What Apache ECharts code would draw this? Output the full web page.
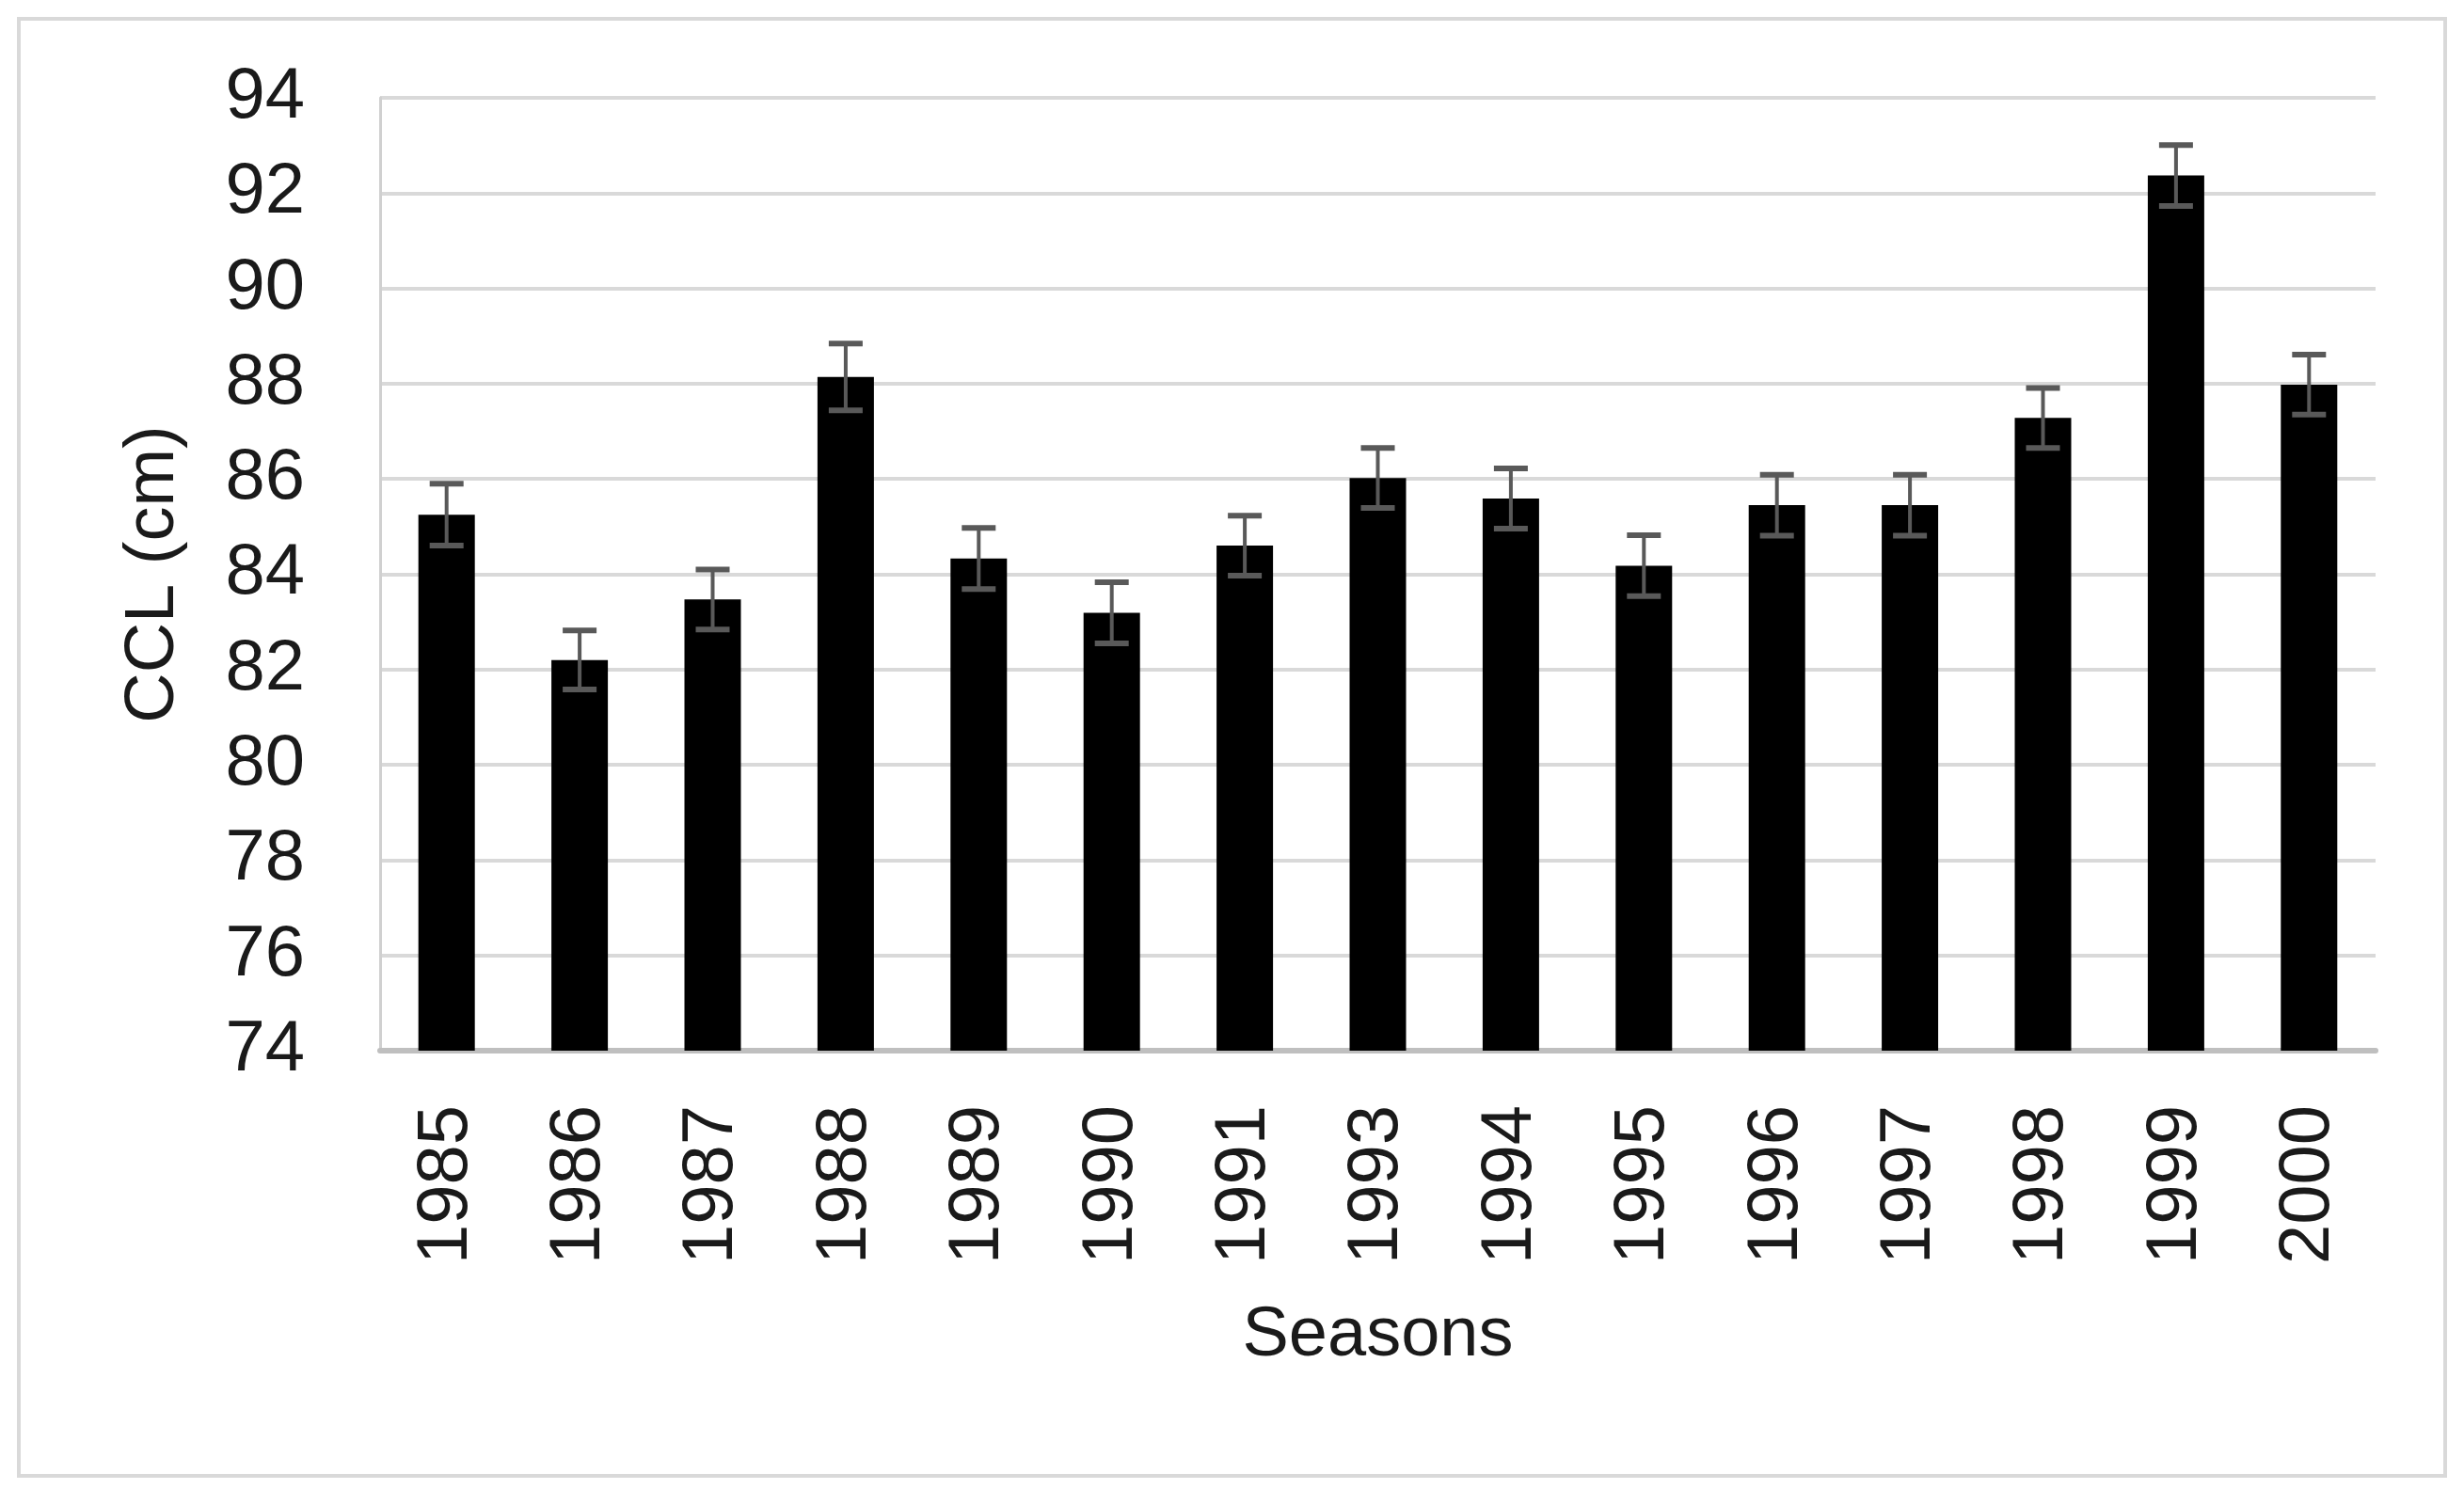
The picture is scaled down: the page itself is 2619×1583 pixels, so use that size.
<!DOCTYPE html>
<head>
    <title>CCL by season</title>
    <script type="text/javascript" src="https://cdn.jsdelivr.net/npm/echarts@6/dist/echarts.min.js"></script>
    <style>
        html, body { margin: 0; padding: 0; background: #fff; }
        #chart { width: 2619px; height: 1583px; }
        #frame { position: absolute; left: 18px; top: 18px; width: 2575px; height: 1545px;
                 border: 4px solid #d9d9d9; pointer-events: none; }
    </style>
</head>
<body>
<div id="chart"></div>
<div id="frame"></div>
<script>
    var seasons = ['1985', '1986', '1987', '1988', '1989', '1990', '1991', '1993',
                   '1994', '1995', '1996', '1997', '1998', '1999', '2000'];
    var ccl = [85.25, 82.2, 83.47, 88.14, 84.33, 83.19, 84.6, 86.02,
               85.59, 84.18, 85.45, 85.45, 87.28, 92.37, 87.98];
    var err = [0.65, 0.62, 0.63, 0.7, 0.64, 0.64, 0.63, 0.63,
               0.63, 0.64, 0.64, 0.64, 0.63, 0.64, 0.63];
    var yTicks = [74, 76, 78, 80, 82, 84, 86, 88, 90, 92, 94];

    var font = 'Liberation Sans';
    var yMin = yTicks[0], yMax = yTicks[yTicks.length - 1];
    var errData = seasons.map(function (s, i) {
        return [i, ccl[i] - err[i], ccl[i] + err[i]];
    });

    function renderErr(params, api) {
        var x = api.value(0);
        var lo = api.coord([x, api.value(1)]);
        var hi = api.coord([x, api.value(2)]);
        var half = 18;
        var st = { stroke: '#595959', lineWidth: 4 };
        var cap = { stroke: '#595959', lineWidth: 6 };
        return {
            type: 'group',
            children: [
                { type: 'line', shape: { x1: lo[0], y1: lo[1], x2: hi[0], y2: hi[1] }, style: st },
                { type: 'line', shape: { x1: hi[0] - half, y1: hi[1], x2: hi[0] + half, y2: hi[1] }, style: cap },
                { type: 'line', shape: { x1: lo[0] - half, y1: lo[1], x2: lo[0] + half, y2: lo[1] }, style: cap }
            ]
        };
    }

    var labelStyle = { margin: 80, fontFamily: font, fontSize: 76, color: '#1a1a1a' };

    var chart = echarts.init(document.getElementById('chart'));
    chart.setOption({
        animation: false,
        grid: { left: 404, right: 94, top: 104, bottom: 466 },
        xAxis: {
            type: 'category',
            data: seasons,
            name: 'Seasons',
            nameLocation: 'middle',
            nameGap: 240,
            nameTextStyle: { fontFamily: font, fontSize: 74, color: '#1a1a1a' },
            axisLine: { lineStyle: { color: '#bfbfbf', width: 6 } },
            axisTick: { show: false },
            axisLabel: { rotate: 90, interval: 0, margin: 58, fontFamily: font, fontSize: 76, color: '#1a1a1a' }
        },
        // two overlaid left axes so every tick label is kept (74, 78 ... 94 and 76, 80 ... 92)
        yAxis: [
            {
                type: 'value',
                min: yMin,
                max: yMax,
                interval: 4,
                name: 'CCL (cm)',
                nameLocation: 'middle',
                nameGap: 177,
                nameTextStyle: { fontFamily: font, fontSize: 74, color: '#1a1a1a' },
                axisLine: { show: true, lineStyle: { color: '#d0d0d0', width: 3 } },
                axisTick: { show: false },
                axisLabel: labelStyle,
                splitLine: { show: false }
            },
            {
                type: 'value',
                position: 'left',
                min: yMin,
                max: yMax,
                interval: 2,
                axisLine: { show: false },
                axisTick: { show: false },
                axisLabel: Object.assign({
                    showMinLabel: false,
                    showMaxLabel: false,
                    formatter: function (v) { return (v - yMin) % 4 === 2 ? String(v) : ''; }
                }, labelStyle),
                splitLine: { lineStyle: { color: '#d9d9d9', width: 4 } }
            }
        ],
        series: [
            {
                type: 'bar',
                data: ccl,
                barWidth: 60,
                itemStyle: { color: '#000' }
            },
            {
                type: 'custom',
                data: errData,
                renderItem: renderErr,
                z: 5
            }
        ]
    });
</script>
</body>
